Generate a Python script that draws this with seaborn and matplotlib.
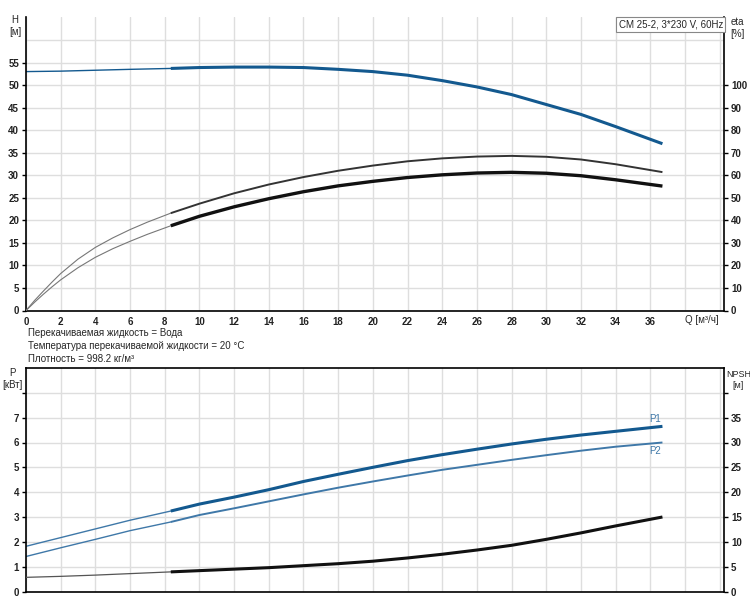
import numpy as np
import pandas as pd
import matplotlib
matplotlib.use("Agg")
import matplotlib.pyplot as plt
import seaborn as sns

# ---------------- data ----------------
Q_H = [0, 2, 4, 6, 8.35, 10, 12, 14, 16, 18, 20, 22, 24, 26, 28, 30, 32, 34, 36.7]
H = [53.0, 53.1, 53.3, 53.5, 53.7, 53.9, 54.0, 54.0, 53.9, 53.5, 53.0, 52.2, 51.0,
     49.6, 47.9, 45.7, 43.5, 40.8, 37.0]

Q_eta = [0, 0.5, 1, 1.5, 2, 3, 4, 5, 6, 7, 8.35, 10, 12, 14, 16, 18, 20, 22, 24, 26,
         28, 30, 32, 34, 36.7]
eta_upper = [0, 4.5, 8.6, 12.6, 16.4, 22.8, 28.0, 32.2, 35.9, 39.2, 43.2, 47.4, 52.0,
             55.9, 59.2, 62.0, 64.3, 66.2, 67.5, 68.3, 68.6, 68.2, 67.0, 64.9, 61.4]
eta_lower = [0, 3.7, 7.2, 10.5, 13.6, 19.0, 23.6, 27.4, 30.7, 33.8, 37.6, 41.8, 46.0,
             49.6, 52.7, 55.3, 57.3, 59.0, 60.2, 61.0, 61.3, 60.9, 59.8, 58.0, 55.2]

Q_P = [0, 2, 4, 6, 8.35, 10, 12, 14, 16, 18, 20, 22, 24, 26, 28, 30, 32, 34, 36.7]
P1 = [1.82, 2.17, 2.52, 2.87, 3.24, 3.52, 3.80, 4.10, 4.43, 4.72, 5.00, 5.27, 5.51,
      5.73, 5.94, 6.13, 6.30, 6.45, 6.65]
P2 = [1.41, 1.76, 2.10, 2.45, 2.80, 3.08, 3.35, 3.63, 3.91, 4.18, 4.43, 4.67, 4.90,
      5.10, 5.30, 5.49, 5.67, 5.83, 6.00]

Q_npsh = [0, 2, 4, 6, 8.35, 10, 12, 14, 16, 18, 20, 22, 24, 26, 28, 30, 32, 34, 36.7]
NPSH = [2.85, 3.05, 3.3, 3.6, 3.95, 4.2, 4.5, 4.8, 5.2, 5.6, 6.1, 6.75, 7.5, 8.35,
        9.3, 10.5, 11.8, 13.2, 15.0]

x_ticks = list(range(0, 41, 2))
x_labels = [str(v) if v <= 36 else "" for v in x_ticks]
H_ticks = list(range(0, 56, 5))
eta_ticks = list(range(0, 101, 10))
P_ticks = list(range(0, 9))
P_labels = [str(v) if v <= 7 else "" for v in P_ticks]
NPSH_ticks = list(range(0, 41, 5))
NPSH_labels = [str(v) if v <= 35 else "" for v in NPSH_ticks]

title_box = "CM 25-2, 3*230 V, 60Hz"
info_lines = ["Перекачиваемая жидкость = Вода",
              "Температура перекачиваемой жидкости = 20 °C",
              "Плотность = 998.2 кг/м³"]

# ---------------- style ----------------
sns.set_style("white")
plt.rcParams["font.family"] = ["Liberation Sans", "DejaVu Sans"]
plt.rcParams["font.size"] = 7

BLUE = "#13598f"
BLUE_LIGHT = "#3f78a8"
BLACK = "#111111"
GRID = "#dedede"
Q_SPLIT = 8.35

fig = plt.figure(figsize=(7.5, 6), dpi=100)
L, R = 26 / 750, 724 / 750
ax1 = fig.add_axes([L, 1 - 310.5 / 600, R - L, (310.5 - 17.5) / 600])
ax3 = fig.add_axes([L, 1 - 591.5 / 600, R - L, (591.5 - 368) / 600])
ax2 = ax1.twinx()
ax4 = ax3.twinx()


def draw(ax, q, v, color, lw_thick, lw_thin=0.8, thin_color=None):
    df = pd.DataFrame({"Q": q, "v": v})
    thin = df[df.Q <= Q_SPLIT]
    thick = df[df.Q >= Q_SPLIT]
    sns.lineplot(data=thin, x="Q", y="v", ax=ax, color=thin_color or color,
                 lw=lw_thin, estimator=None, legend=False)
    sns.lineplot(data=thick, x="Q", y="v", ax=ax, color=color, lw=lw_thick,
                 estimator=None, legend=False, solid_capstyle="butt")


# top panel
draw(ax1, Q_H, H, BLUE, 2.2, 1.0)
draw(ax2, Q_eta, eta_upper, "#333333", 1.4, 0.8, "#777777")
draw(ax2, Q_eta, eta_lower, BLACK, 2.4, 0.8, "#777777")

# bottom panel
draw(ax3, Q_P, P1, BLUE, 2.2, 1.0, BLUE_LIGHT)
draw(ax3, Q_P, P2, BLUE_LIGHT, 1.4, 1.0, BLUE_LIGHT)
draw(ax4, Q_npsh, NPSH, BLACK, 2.2, 0.9, "#555555")

for ax in (ax1, ax2, ax3, ax4):
    ax.set_xlim(0, 40.25)
    ax.set_xlabel("")
    ax.set_ylabel("")

ax1.set_ylim(0, 65)
ax2.set_ylim(0, 130)
ax3.set_ylim(0, 9)
ax4.set_ylim(0, 45)

ax1.set_xticks(x_ticks)
ax1.set_xticklabels(x_labels)
ax3.set_xticks(x_ticks)
ax3.set_xticklabels([""] * len(x_ticks))
ax1.set_yticks(H_ticks)
ax1.set_yticks([60], minor=True)
ax2.set_yticks(eta_ticks)
ax3.set_yticks(P_ticks)
ax3.set_yticklabels(P_labels)
ax4.set_yticks(NPSH_ticks)
ax4.set_yticklabels(NPSH_labels)

for ax in (ax1, ax3):
    ax.grid(True, which="both", color=GRID, lw=1.0)
    ax.set_axisbelow(True)
    ax.tick_params(axis="both", which="major", direction="out", length=3,
                   width=1, color="black", labelsize=7, pad=2)
    ax.tick_params(axis="y", which="minor", length=0)
for ax in (ax2, ax4):
    ax.tick_params(axis="y", direction="out", length=3, width=1,
                   color="black", labelsize=7, pad=2)
    ax.grid(False)
    for s in ax.spines.values():
        s.set_visible(False)
    ax.patch.set_visible(False)

for ax in (ax1, ax3):
    for name in ("left", "right", "bottom", "top"):
        ax.spines[name].set_color("black")
        ax.spines[name].set_linewidth(1.2)
        ax.spines[name].set_visible(True)
ax1.spines["top"].set_visible(False)
ax3.tick_params(axis="x", length=0)
for lab in ax1.get_xticklabels() + ax1.get_yticklabels() + ax2.get_yticklabels() \
        + ax3.get_yticklabels() + ax4.get_yticklabels():
    lab.set_fontweight("bold")
    lab.set_color("#222222")

# labels
fig.text(15 / 750, 1 - 26 / 600, "H\n[м]", ha="center", va="center",
         fontsize=7, linespacing=1.3)
fig.text(737 / 750, 1 - 28 / 600, "eta\n[%]", ha="center", va="center",
         fontsize=7, linespacing=1.3)
fig.text(12 / 750, 1 - 379 / 600, "P\n[кВт]", ha="center", va="center",
         fontsize=7, linespacing=1.3)
fig.text(726 / 750, 1 - 380 / 600, "NPSH\n[м]", ha="left", va="center",
         multialignment="center", fontsize=6.5, linespacing=1.35)
fig.text(702 / 750, 1 - 320 / 600, "Q [м³/ч]", ha="center", va="center",
         fontsize=7)

for i, line in enumerate(info_lines):
    fig.text(28 / 750, 1 - (333 + 13 * i) / 600, line, ha="left", va="center",
             fontsize=7)

ax1.text(0.9985, 0.993, title_box, transform=ax1.transAxes, ha="right", va="top",
         fontsize=7,
         bbox=dict(boxstyle="square,pad=0.25", fc="white", ec="#888888", lw=0.8))

ax3.text(36.3, 6.93, "P1", color=BLUE_LIGHT, fontsize=7, ha="center", va="center")
ax3.text(36.3, 5.67, "P2", color=BLUE_LIGHT, fontsize=7, ha="center", va="center")

fig.savefig("out.png", dpi=100)
